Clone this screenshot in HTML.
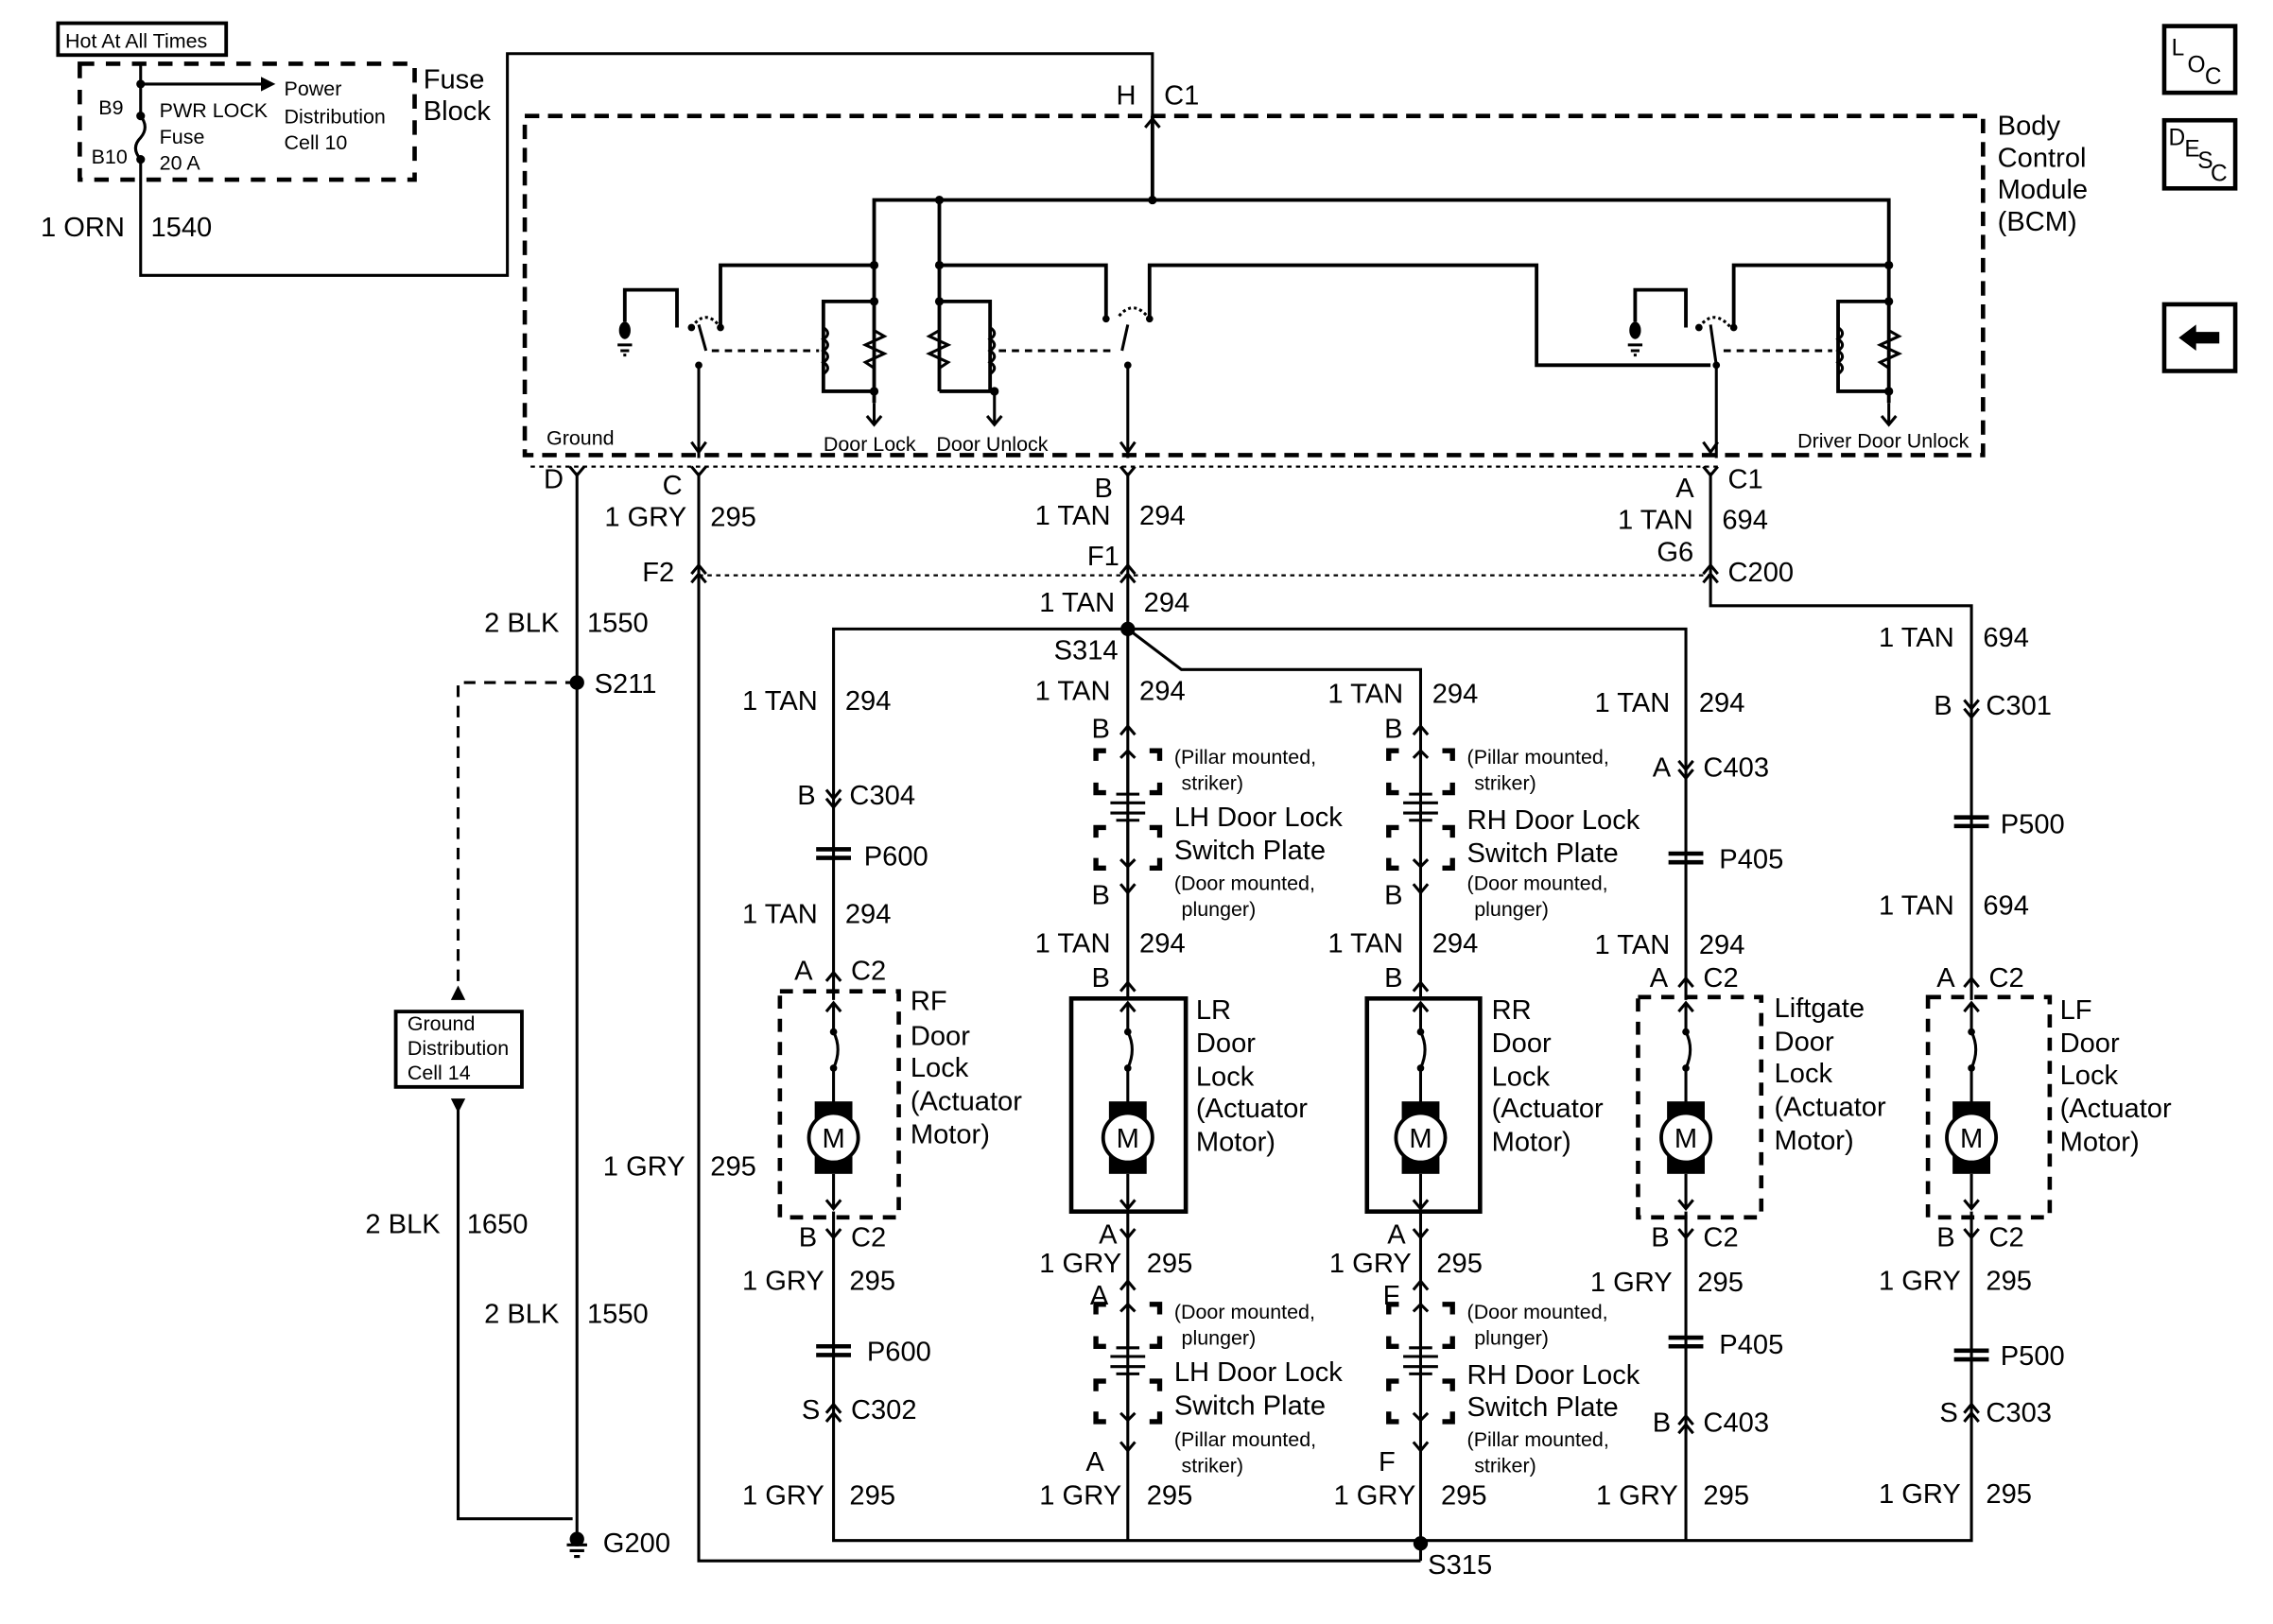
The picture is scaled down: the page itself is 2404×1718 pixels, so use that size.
<!DOCTYPE html>
<html><head><meta charset="utf-8"><style>
html,body{margin:0;padding:0;background:#fff}
svg{display:block}
text{font-family:"Liberation Sans",sans-serif;fill:#000}
</style></head><body>
<svg width="2404" height="1718" viewBox="0 0 1568 1120.6" xmlns="http://www.w3.org/2000/svg">
<defs>
<g id="mot">
 <path d="M0 692 V712 M-5 698 L0 692 L5 698" fill="none" stroke="#000" stroke-width="2"/>
 <circle cx="0" cy="712" r="2.5"/><circle cx="0" cy="737" r="2.5"/>
 <path d="M0 712 Q6 724 0 737 V762" fill="none" stroke="#000" stroke-width="2"/>
 <rect x="-13" y="760" width="26" height="50"/>
 <circle cx="0" cy="785" r="17" fill="#fff" stroke="#000" stroke-width="2.5"/>
 <text x="0" y="792" font-size="19" text-anchor="middle">M</text>
 <path d="M0 810 V834 M-5 828 L0 834 L5 828" fill="none" stroke="#000" stroke-width="2"/>
</g>
<g id="plate" fill="none" stroke="#000">
 <path d="M-22 525 V518 H-15 M15 518 H22 V525 M-22 540 V547 H-15 M15 547 H22 V540" stroke-width="3.5"/>
 <path d="M-22 578 V571 H-15 M15 571 H22 V578 M-22 592 V599 H-15 M15 599 H22 V592" stroke-width="3.5"/>
 <path d="M0 518 V548 M-5 523 L0 518 L5 523 M-8 548 H8 M-12 554 H12 M-12 561 H12 M-8 566 H8 M0 566 V598 M-5 593 L0 598 L5 593" stroke-width="2"/>
</g>
</defs>
<g fill="none" stroke="#000" stroke-width="2">
 <rect x="40" y="16" width="116" height="22" stroke-width="2.5"/>
 <rect x="55" y="44" width="231" height="80" stroke-width="3" stroke-dasharray="10,8"/>
 <path d="M97 80 V44 M97 58 H180"/>
 <path d="M97 80 Q103 88 97 95 Q90 102 97 110 V190 H350 V37 H795 V80"/>
 <rect x="362" y="80" width="1006" height="234" stroke-width="3" stroke-dasharray="10,6"/>
 <path d="M790 88 L795 82 L800 88"/>
 <path d="M795 80 V138 M603 278 V138 H1303 V278 M648 138 V270" stroke-width="2.5"/>
 <path d="M497 226 V183 H603 M648 183 H763 V220 M793 220 V183 H1060 V252 H1180 M1196 226 V183 H1303" stroke-width="2.5"/>
 <path d="M431 222 V200 H467 V226 M1128 222 V200 H1163 V226" stroke-width="2.5"/>
 <path d="M477 226 Q487 212 497 226 M772 218 Q782 206 793 220 M1172 226 Q1182 212 1194 226" stroke-dasharray="2,2"/>
 <path d="M482 224 L487 242 M482 252 V316 M778 224 L774 242 M778 252 V316 M1180 224 L1184 252 V316"/>
 <path d="M477 305 L482 312 L487 305 M773 305 L778 312 L783 305 M1175 305 L1180 312 L1185 305"/>
 <path d="M491 242 H565 M689 242 H770 M1189 242 H1264" stroke-dasharray="5,4"/>
 <path d="M603 208 H568 V270 H603 M648 208 H683 V270 H648 M1303 208 H1268 V270 H1303" stroke-width="2.5"/>
 <path d="M603 208 V228 L610 232 L597 238 L610 244 L597 250 L603 254 V270 M648 208 V228 L641 232 L654 238 L641 244 L654 250 L648 254 V270 M1303 208 V228 L1310 232 L1297 238 L1310 244 L1297 250 L1303 254 V270"/>
 <path d="M568 226 q6 4 0 8 q6 4 0 8 q6 4 0 8 q6 4 0 8 M683 226 q6 4 0 8 q6 4 0 8 q6 4 0 8 q6 4 0 8 M1268 226 q6 4 0 8 q6 4 0 8 q6 4 0 8 q6 4 0 8"/>
 <path d="M603 278 V293 M598 287 L603 293 L608 287 M686 270 V293 M681 287 L686 293 L691 287 M1303 278 V293 M1298 287 L1303 293 L1308 287"/>
 <path d="M426 238 H436 M428 242 H434 M430 245 H432"/>
 <path d="M1123 238 H1133 M1125 242 H1131 M1127 245 H1129"/>
 <path d="M366 322 H1188 M482 397 H1184" stroke-dasharray="3,3" stroke-width="1.5"/>
 <path d="M393 322 L398 328 L403 322 M477 322 L482 328 L487 322 M773 322 L778 328 L783 322 M1175 322 L1180 328 L1185 322"/>
 <path d="M477 396 L482 390 L487 396 M477 402 L482 396 L487 402 M773 396 L778 390 L783 396 M773 402 L778 396 L783 402 M1175 396 L1180 390 L1185 396 M1175 402 L1180 396 L1185 402"/>
 <path d="M398 326 V1062 M482 326 V1077 H980 M778 326 V690 M1180 326 V418 H1360 V690"/>
 <path d="M398 471 H316 V684" stroke-dasharray="8,6"/>
 <rect x="273" y="698" width="87" height="52" stroke-width="2.5"/>
 <path d="M316 764 V1048 H395"/>
 <path d="M391 1066 H405 M393 1070 H403 M396 1074 H400"/>
 <path d="M575 690 V434 H1163 V690 M778 434 L815 462 H980 V690"/>
 <path d="M575 836 V1063 H1360 V836 M778 836 V1063 M980 836 V1077 M1163 836 V1063"/>
 <rect x="538" y="684" width="82" height="156" stroke-width="3" stroke-dasharray="9,7"/>
 <rect x="739" y="689" width="79" height="147" stroke-width="3"/>
 <rect x="943" y="689" width="78" height="147" stroke-width="3"/>
 <rect x="1130" y="688" width="85" height="152" stroke-width="3" stroke-dasharray="9,7"/>
 <rect x="1330" y="688" width="84" height="152" stroke-width="3" stroke-dasharray="9,7"/>
 <path d="M570 545 L575 551 L580 545 M570 551 L575 557 L580 551 M1158 525 L1163 531 L1168 525 M1158 531 L1163 537 L1168 531 M1355 483 L1360 489 L1365 483 M1355 489 L1360 495 L1365 489"/>
 <path d="M570 677 L575 671 L580 677 M1158 681 L1163 675 L1168 681 M1355 681 L1360 675 L1365 681 M773 684 L778 678 L783 684 M975 684 L980 678 L985 684"/>
 <path d="M570 848 L575 854 L580 848 M773 848 L778 854 L783 848 M975 848 L980 854 L985 848 M1158 848 L1163 854 L1168 848 M1355 848 L1360 854 L1365 848"/>
 <path d="M570 975 L575 969 L580 975 M570 981 L575 975 L580 981 M1158 983 L1163 977 L1168 983 M1158 989 L1163 983 L1168 989 M1355 975 L1360 969 L1365 975 M1355 981 L1360 975 L1365 981"/>
 <path d="M773 507 L778 501 L783 507 M975 507 L980 501 L985 507 M773 610 L778 616 L783 610 M975 610 L980 616 L985 610"/>
 <path d="M773 890 L778 884 L783 890 M975 890 L980 884 L985 890 M773 995 L778 1001 L783 995 M975 995 L980 1001 L985 995"/>
 <path d="M563 586 H587 M563 592 H587 M1151 589 H1175 M1151 595 H1175 M1348 564 H1372 M1348 570 H1372 M563 929 H587 M563 935 H587 M1151 923 H1175 M1151 929 H1175 M1348 932 H1372 M1348 938 H1372" stroke-width="3"/>
 <rect x="1493" y="18" width="49" height="46" stroke-width="3"/>
 <rect x="1493" y="83" width="49" height="47" stroke-width="3"/>
 <rect x="1493" y="210" width="49" height="46" stroke-width="3"/>
</g>
<g>
 <path d="M180 53 L190 58 L180 63 Z"/>
 <path d="M1503 233 L1515 224 V229 H1531 V237 H1515 V242 Z"/>
 <circle cx="97" cy="58" r="3"/><circle cx="97" cy="80" r="3"/><circle cx="97" cy="110" r="3"/>
 <circle cx="795" cy="138" r="3"/><circle cx="648" cy="138" r="3"/>
 <circle cx="603" cy="183" r="3"/><circle cx="648" cy="183" r="3"/><circle cx="1303" cy="183" r="3"/>
 <circle cx="603" cy="208" r="3"/><circle cx="648" cy="208" r="3"/><circle cx="1303" cy="208" r="3"/>
 <circle cx="603" cy="270" r="3"/><circle cx="686" cy="270" r="3"/><circle cx="1303" cy="270" r="3"/>
 <ellipse cx="431" cy="228" rx="4" ry="6"/><ellipse cx="1128" cy="228" rx="4" ry="6"/>
 <circle cx="477" cy="226" r="2.5"/><circle cx="497" cy="226" r="2.5"/><circle cx="482" cy="252" r="2.5"/>
 <circle cx="763" cy="220" r="2.5"/><circle cx="793" cy="220" r="2.5"/><circle cx="778" cy="252" r="2.5"/>
 <circle cx="1172" cy="226" r="2.5"/><circle cx="1196" cy="226" r="2.5"/><circle cx="1184" cy="252" r="2.5"/>
 <circle cx="778" cy="434" r="5"/><circle cx="398" cy="471" r="5"/><circle cx="398" cy="1062" r="5"/><circle cx="980" cy="1065" r="5"/>
 <path d="M311 690 L316 680 L321 690 Z M311 758 L316 768 L321 758 Z"/>
 <use href="#mot" x="575"/><use href="#mot" x="778"/><use href="#mot" x="980"/><use href="#mot" x="1163"/><use href="#mot" x="1360"/>
 <use href="#plate" x="778"/><use href="#plate" x="980"/>
 <use href="#plate" x="778" y="382"/><use href="#plate" x="980" y="382"/>
</g>
<g font-size="14">
 <text x="45" y="33">Hot At All Times</text>
 <text x="68" y="79">B9</text><text x="63" y="113">B10</text>
 <text x="110" y="81">PWR LOCK</text><text x="110" y="99">Fuse</text><text x="110" y="117">20 A</text>
 <text x="196" y="66">Power</text><text x="196" y="85">Distribution</text><text x="196" y="103">Cell 10</text>
 <text x="377" y="307">Ground</text><text x="568" y="311">Door Lock</text><text x="646" y="311">Door Unlock</text><text x="1240" y="309">Driver Door Unlock</text>
 <text x="281" y="711">Ground</text><text x="281" y="728">Distribution</text><text x="281" y="745">Cell 14</text>
 <text x="810" y="527">(Pillar mounted,</text><text x="815" y="545">striker)</text>
 <text x="810" y="614">(Door mounted,</text><text x="815" y="632">plunger)</text>
 <text x="1012" y="527">(Pillar mounted,</text><text x="1017" y="545">striker)</text>
 <text x="1012" y="614">(Door mounted,</text><text x="1017" y="632">plunger)</text>
 <text x="810" y="910">(Door mounted,</text><text x="815" y="928">plunger)</text>
 <text x="810" y="998">(Pillar mounted,</text><text x="815" y="1016">striker)</text>
 <text x="1012" y="910">(Door mounted,</text><text x="1017" y="928">plunger)</text>
 <text x="1012" y="998">(Pillar mounted,</text><text x="1017" y="1016">striker)</text>
</g>
<g font-size="19">
 <text x="292" y="61">Fuse</text><text x="292" y="83">Block</text>
 <text x="1378" y="93">Body</text><text x="1378" y="115">Control</text><text x="1378" y="137">Module</text><text x="1378" y="159">(BCM)</text>
 <text x="28" y="163">1 ORN</text><text x="104" y="163">1540</text>
 <text x="770" y="72">H</text><text x="803" y="72">C1</text>
 <text x="375" y="337">D</text><text x="457" y="341">C</text><text x="755" y="343">B</text><text x="1156" y="343">A</text><text x="1192" y="337">C1</text>
 <text x="417" y="363">1 GRY</text><text x="490" y="363">295</text>
 <text x="714" y="362">1 TAN</text><text x="786" y="362">294</text>
 <text x="1116" y="365">1 TAN</text><text x="1188" y="365">694</text>
 <text x="1143" y="387">G6</text><text x="1192" y="401">C200</text>
 <text x="443" y="401">F2</text><text x="750" y="390">F1</text>
 <text x="717" y="422">1 TAN</text><text x="789" y="422">294</text>
 <text x="727" y="455">S314</text>
 <text x="334" y="436">2 BLK</text><text x="405" y="436">1550</text>
 <text x="410" y="478">S211</text>
 <text x="1296" y="446">1 TAN</text><text x="1368" y="446">694</text>
 <text x="512" y="490">1 TAN</text><text x="583" y="490">294</text>
 <text x="714" y="483">1 TAN</text><text x="786" y="483">294</text>
 <text x="916" y="485">1 TAN</text><text x="988" y="485">294</text>
 <text x="1100" y="491">1 TAN</text><text x="1172" y="491">294</text>
 <text x="1334" y="493">B</text><text x="1370" y="493">C301</text>
 <text x="753" y="509">B</text><text x="955" y="509">B</text>
 <text x="1140" y="536">A</text><text x="1175" y="536">C403</text>
 <text x="550" y="555">B</text><text x="586" y="555">C304</text>
 <text x="810" y="570">LH Door Lock</text><text x="810" y="593">Switch Plate</text>
 <text x="1012" y="572">RH Door Lock</text><text x="1012" y="595">Switch Plate</text>
 <text x="1380" y="575">P500</text><text x="596" y="597">P600</text><text x="1186" y="599">P405</text>
 <text x="753" y="624">B</text><text x="955" y="624">B</text>
 <text x="512" y="637">1 TAN</text><text x="583" y="637">294</text>
 <text x="1296" y="631">1 TAN</text><text x="1368" y="631">694</text>
 <text x="714" y="657">1 TAN</text><text x="786" y="657">294</text>
 <text x="916" y="657">1 TAN</text><text x="988" y="657">294</text>
 <text x="1100" y="658">1 TAN</text><text x="1172" y="658">294</text>
 <text x="548" y="676">A</text><text x="587" y="676">C2</text>
 <text x="753" y="681">B</text><text x="955" y="681">B</text>
 <text x="1138" y="681">A</text><text x="1175" y="681">C2</text>
 <text x="1336" y="681">A</text><text x="1372" y="681">C2</text>
 <text x="628" y="697">RF</text><text x="628" y="721">Door</text><text x="628" y="743">Lock</text><text x="628" y="766">(Actuator</text><text x="628" y="789">Motor)</text>
 <text x="825" y="703">LR</text><text x="825" y="726">Door</text><text x="825" y="749">Lock</text><text x="825" y="771">(Actuator</text><text x="825" y="794">Motor)</text>
 <text x="1029" y="703">RR</text><text x="1029" y="726">Door</text><text x="1029" y="749">Lock</text><text x="1029" y="771">(Actuator</text><text x="1029" y="794">Motor)</text>
 <text x="1224" y="702">Liftgate</text><text x="1224" y="725">Door</text><text x="1224" y="747">Lock</text><text x="1224" y="770">(Actuator</text><text x="1224" y="793">Motor)</text>
 <text x="1421" y="703">LF</text><text x="1421" y="726">Door</text><text x="1421" y="748">Lock</text><text x="1421" y="771">(Actuator</text><text x="1421" y="794">Motor)</text>
 <text x="416" y="811">1 GRY</text><text x="490" y="811">295</text>
 <text x="252" y="851">2 BLK</text><text x="322" y="851">1650</text>
 <text x="758" y="858">A</text><text x="957" y="858">A</text>
 <text x="551" y="860">B</text><text x="587" y="860">C2</text>
 <text x="1139" y="860">B</text><text x="1175" y="860">C2</text>
 <text x="1336" y="860">B</text><text x="1372" y="860">C2</text>
 <text x="717" y="878">1 GRY</text><text x="791" y="878">295</text>
 <text x="917" y="878">1 GRY</text><text x="991" y="878">295</text>
 <text x="512" y="890">1 GRY</text><text x="586" y="890">295</text>
 <text x="1097" y="891">1 GRY</text><text x="1171" y="891">295</text>
 <text x="1296" y="890">1 GRY</text><text x="1370" y="890">295</text>
 <text x="752" y="900">A</text><text x="954" y="900">F</text>
 <text x="334" y="913">2 BLK</text><text x="405" y="913">1550</text>
 <text x="1186" y="934">P405</text><text x="598" y="939">P600</text><text x="1380" y="942">P500</text>
 <text x="810" y="953">LH Door Lock</text><text x="810" y="976">Switch Plate</text>
 <text x="1012" y="955">RH Door Lock</text><text x="1012" y="977">Switch Plate</text>
 <text x="553" y="979">S</text><text x="587" y="979">C302</text>
 <text x="1338" y="981">S</text><text x="1370" y="981">C303</text>
 <text x="1140" y="988">B</text><text x="1175" y="988">C403</text>
 <text x="749" y="1015">A</text><text x="951" y="1015">F</text>
 <text x="512" y="1038">1 GRY</text><text x="586" y="1038">295</text>
 <text x="717" y="1038">1 GRY</text><text x="791" y="1038">295</text>
 <text x="920" y="1038">1 GRY</text><text x="994" y="1038">295</text>
 <text x="1101" y="1038">1 GRY</text><text x="1175" y="1038">295</text>
 <text x="1296" y="1037">1 GRY</text><text x="1370" y="1037">295</text>
 <text x="416" y="1071">G200</text><text x="985" y="1086">S315</text>
</g>
<g font-size="16">
 <text x="1498" y="38">L</text><text x="1509" y="50">O</text><text x="1521" y="58">C</text>
 <text x="1496" y="100">D</text><text x="1507" y="108">E</text><text x="1516" y="116">S</text><text x="1525" y="125">C</text>
</g>
</svg>
</body></html>
